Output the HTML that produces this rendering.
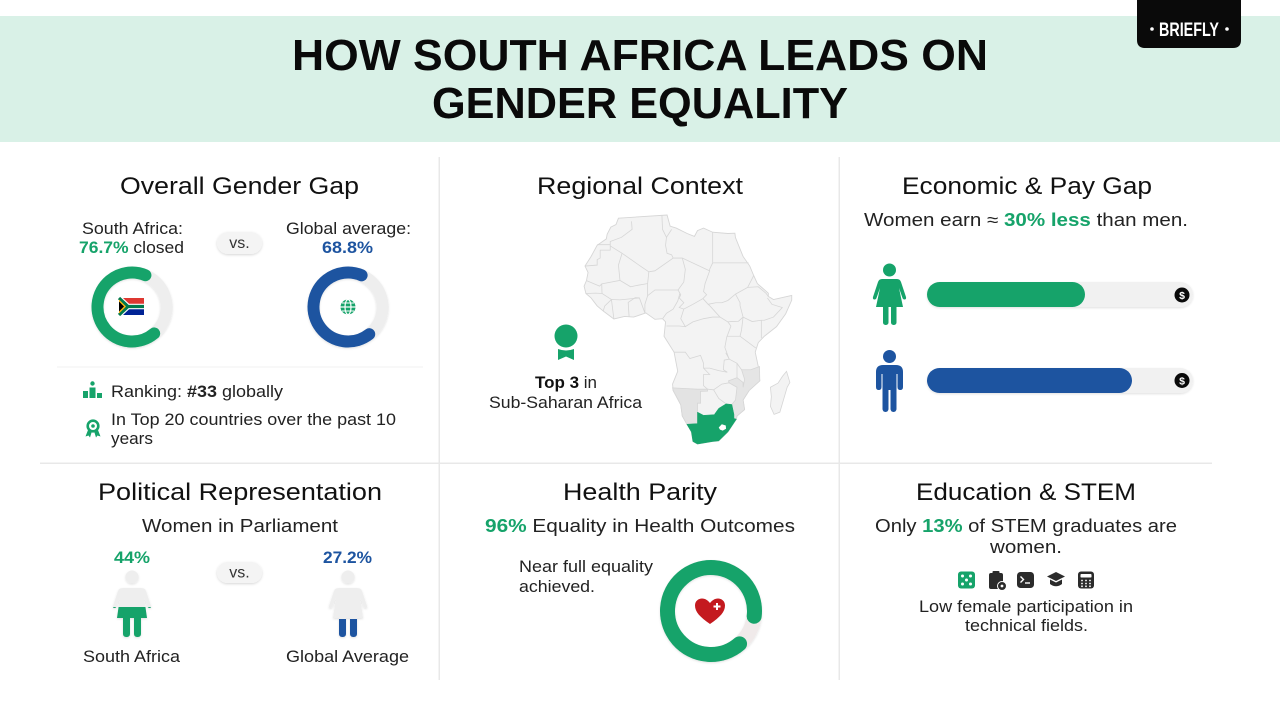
<!DOCTYPE html>
<html>
<head>
<meta charset="utf-8">
<style>
  html,body{margin:0;padding:0;background:#fff;}
  body{width:1280px;height:720px;overflow:hidden;}
  svg{display:block;}
  text{font-family:"Liberation Sans", sans-serif;}
</style>
</head>
<body>
<svg width="1280" height="720" viewBox="0 0 1280 720" xmlns="http://www.w3.org/2000/svg">
  <defs>
    <filter id="sh" x="-30%" y="-30%" width="160%" height="160%">
      <feDropShadow dx="0" dy="1" stdDeviation="1.2" flood-color="#000" flood-opacity="0.16"/>
    </filter>
    <filter id="sh2" x="-30%" y="-30%" width="160%" height="160%">
      <feDropShadow dx="0" dy="1" stdDeviation="1" flood-color="#000" flood-opacity="0.12"/>
    </filter>
    <g id="fig">
      <circle cx="0" cy="577" r="6.5"/>
      <path d="M -9,588 L 9,588 Q 13,588 14,591 L 19,606 Q 19.5,608 17.5,608 Q 16,608 15.5,606.5 L 12,597 L 15,618 L -15,618 L -12,597 L -15.5,606.5 Q -16,608 -17.5,608 Q -19.5,608 -19,606 L -14,591 Q -13,588 -9,588 Z"/>
      <rect x="-9" y="615" width="7" height="22" rx="3"/>
      <rect x="2" y="615" width="7" height="22" rx="3"/>
    </g>
    <clipPath id="lowSA"><rect x="-30" y="607" width="60" height="40"/></clipPath>
    <clipPath id="lowGL"><rect x="-30" y="619" width="60" height="30"/></clipPath>
  </defs>

  <!-- Header -->
  <rect x="0" y="16" width="1280" height="126" fill="#d9f1e7"/>
  <text x="292" y="70" font-size="44" font-weight="bold" fill="#0a0a0a" textLength="696" lengthAdjust="spacingAndGlyphs">HOW SOUTH AFRICA LEADS ON</text>
  <text x="432" y="118" font-size="44" font-weight="bold" fill="#0a0a0a" textLength="416" lengthAdjust="spacingAndGlyphs">GENDER EQUALITY</text>

  <!-- Briefly logo -->
  <path d="M1137,0 H1241 V40 Q1241,48 1233,48 H1145 Q1137,48 1137,40 Z" fill="#0a0a0a"/>
  <circle cx="1152" cy="29" r="1.8" fill="#fff"/>
  <circle cx="1227" cy="29" r="1.8" fill="#fff"/>
  <text x="1159" y="36" font-size="19" font-weight="bold" fill="#fff" textLength="60" lengthAdjust="spacingAndGlyphs">BRIEFLY</text>

  <!-- Grid lines -->
  <rect x="438.5" y="157" width="1.5" height="523" fill="#e8e8e8"/>
  <rect x="838.5" y="157" width="1.5" height="523" fill="#e8e8e8"/>
  <rect x="40" y="462.5" width="1172" height="1.5" fill="#e8e8e8"/>

  <!-- ===== Overall Gender Gap ===== -->
  <text x="120" y="194" font-size="24" fill="#111" textLength="239" lengthAdjust="spacingAndGlyphs">Overall Gender Gap</text>
  <text x="82" y="234" font-size="17" fill="#222" textLength="101" lengthAdjust="spacingAndGlyphs">South Africa:</text>
  <text x="79" y="253" font-size="17" fill="#222" textLength="105" lengthAdjust="spacingAndGlyphs"><tspan font-weight="bold" fill="#16a36a">76.7%</tspan> closed</text>
  <text x="286" y="234" font-size="17" fill="#222" textLength="125" lengthAdjust="spacingAndGlyphs">Global average:</text>
  <text x="322" y="253" font-size="17" font-weight="bold" fill="#1d54a0" textLength="51" lengthAdjust="spacingAndGlyphs">68.8%</text>

  <rect x="217" y="232" width="45" height="22" rx="11" fill="#f4f4f4" filter="url(#sh)"/>
  <text x="239.5" y="248" font-size="16" fill="#333" text-anchor="middle">vs.</text>

  <!-- donut SA -->
  <circle cx="132" cy="307" r="34.5" fill="none" stroke="#eeeeee" stroke-width="12" filter="url(#sh2)"/>
  <circle cx="132" cy="307" r="34.5" fill="none" stroke="#16a36a" stroke-width="12" stroke-linecap="round" stroke-dasharray="146 300" transform="rotate(50 132 307)"/>
  <!-- SA flag -->
  <g>
    <rect x="119" y="298" width="25" height="8.5" fill="#de3831"/>
    <rect x="119" y="306.5" width="25" height="8.5" fill="#002395"/>
    <polyline points="119,298 128,306.5 144,306.5" fill="none" stroke="#fff" stroke-width="5.5"/>
    <polyline points="119,315 128,306.5" fill="none" stroke="#fff" stroke-width="5.5"/>
    <polyline points="119,298 128,306.5 144,306.5" fill="none" stroke="#007a4d" stroke-width="3.2"/>
    <polyline points="119,315 128,306.5" fill="none" stroke="#007a4d" stroke-width="3.2"/>
    <polygon points="119,299.5 126,306.5 119,313.5" fill="#ffb612"/>
    <polygon points="119,301.5 124,306.5 119,311.5" fill="#000"/>
  </g>

  <!-- donut global -->
  <circle cx="348" cy="307" r="34.5" fill="none" stroke="#eeeeee" stroke-width="12" filter="url(#sh2)"/>
  <circle cx="348" cy="307" r="34.5" fill="none" stroke="#1d54a0" stroke-width="12" stroke-linecap="round" stroke-dasharray="145 300" transform="rotate(52 348 307)"/>
  <!-- globe icon -->
  <circle cx="348" cy="307" r="7.5" fill="#16a36a"/>
  <ellipse cx="348" cy="307" rx="3" ry="7.5" fill="none" stroke="#fff" stroke-width="1.2"/>
  <line x1="340.5" y1="307" x2="355.5" y2="307" stroke="#fff" stroke-width="1.2"/>
  <line x1="342" y1="303" x2="354" y2="303" stroke="#fff" stroke-width="1"/>
  <line x1="342" y1="311" x2="354" y2="311" stroke="#fff" stroke-width="1"/>

  <rect x="57" y="366.5" width="366" height="1" fill="#f0f0f0"/>

  <!-- ranking icon -->
  <circle cx="92.5" cy="383.5" r="2.2" fill="#16a36a"/>
  <rect x="83" y="391" width="5" height="7" fill="#16a36a"/>
  <rect x="89.5" y="387.5" width="6" height="10.5" fill="#16a36a"/>
  <rect x="97" y="393" width="5" height="5" fill="#16a36a"/>
  <text x="111" y="397" font-size="17" fill="#222" textLength="172" lengthAdjust="spacingAndGlyphs">Ranking: <tspan font-weight="bold">#33</tspan> globally</text>

  <!-- award icon small -->
  <path d="M88,430 L85.5,436.5 L88.5,435.5 L90,437.5 L92,431 Z" fill="#16a36a"/>
  <path d="M98,430 L100.5,436.5 L97.5,435.5 L96,437.5 L94,431 Z" fill="#16a36a"/>
  <circle cx="93" cy="426" r="5.3" fill="none" stroke="#16a36a" stroke-width="2.6"/>
  <circle cx="93" cy="426" r="1.8" fill="#16a36a"/>
  <text x="111" y="425" font-size="17" fill="#222" textLength="285" lengthAdjust="spacingAndGlyphs">In Top 20 countries over the past 10</text>
  <text x="111" y="444" font-size="17" fill="#222" textLength="42" lengthAdjust="spacingAndGlyphs">years</text>

  <!-- ===== Regional Context ===== -->
  <text x="537" y="194" font-size="24" fill="#111" textLength="206" lengthAdjust="spacingAndGlyphs">Regional Context</text>

  <g transform="translate(585,215) scale(3.04,-3.19) translate(17,-37)">
    <path d="M -6,36 L 10,37 L 11,33.5 L 13,32.9 L 16.6,31.2 L 19,30.3 L 20,32.1 L 22,32.9 L 25,31.6 L 30,31.2 L 32.3,31.3 L 32.5,29.9 L 35,24 L 37.2,21 L 38.5,18 L 39.7,15.5 L 43.3,12.5 L 43.3,11.5 L 45,10.5 L 51,11.8 L 51,10.3 L 49,6 L 46,2 L 42,-1 L 40,-3 L 39,-6 L 40,-10.5 L 40.5,-15 L 37,-18 L 35,-21 L 35.5,-24 L 33,-26 L 32.8,-27 L 30,-31 L 27,-33.8 L 25,-34 L 20,-34.8 L 18.5,-34 L 18,-31 L 16.5,-28.5 L 15,-26 L 14.5,-22.5 L 12,-18 L 11.8,-16 L 13.5,-12 L 12.3,-6 L 9,-1 L 9.5,3.5 L 8.5,4.5 L 6,4.3 L 3,6.3 L -1,5 L -4,5.2 L -7.5,4.4 L -11,6.9 L -13,8.5 L -15,11 L -16.7,12.4 L -17.3,14.7 L -16.5,16.5 L -16,19 L -17,21 L -15,24 L -13,27.5 L -10,29.5 L -9.7,31 L -8.5,33.2 L -6.8,34 Z" fill="#f3f3f3" stroke="#d6d6d6" stroke-width="0.9" vector-effect="non-scaling-stroke"/>
    <path d="M 11.8,-17.2 L 20,-17.6 L 23.3,-17.6 L 23.3,-18.2 L 21,-18.3 L 21,-22 L 20,-22 L 20,-28.4 L 16.5,-28.6 L 15,-26 L 14.5,-22.5 L 12,-18 Z" fill="#e3e3e3" stroke="#d6d6d6" stroke-width="0.8" vector-effect="non-scaling-stroke"/>
    <path d="M 40.4,-10.5 L 40.5,-15 L 37,-18 L 35,-21 L 35.5,-24 L 33,-26 L 32.8,-27 L 32,-26.8 L 31.3,-22.4 L 32.5,-21 L 33,-17 L 30.4,-15.6 L 30.2,-15 L 33,-14 L 35,-15.5 L 35,-17 L 35.5,-14.5 L 34.5,-11.5 L 37.5,-11.5 Z" fill="#e5e5e5" stroke="#d6d6d6" stroke-width="0.8" vector-effect="non-scaling-stroke"/>
    <g fill="none" stroke="#d6d6d6" stroke-width="0.8" vector-effect="non-scaling-stroke">
      <path vector-effect="non-scaling-stroke" d="M -1.7,35 L -1.5,32.5 L -5,30 L -8.7,28.7 L -8.7,27.7 L -13,27.7"/>
      <path vector-effect="non-scaling-stroke" d="M -8.7,27.7 L -8.7,26 L -12,26 L -12,23.5 L -13,23 L -13,21.3 L -17,21"/>
      <path vector-effect="non-scaling-stroke" d="M -8.7,27.3 L -4.8,25 L -6,21.3 L -5.5,16.5 L -11.5,15.4 L -12.2,14.7 L -16.4,16.4"/>
      <path vector-effect="non-scaling-stroke" d="M -4.8,25 L 1.2,21 L 4,19.2 L 6,19.5 L 12,23.5 L 11.5,24.5 L 10,25 L 9.5,27.5 L 9.8,30 L 8.5,32.5 L 8.3,36.9"/>
      <path vector-effect="non-scaling-stroke" d="M 9.8,30 L 11.5,32.5"/>
      <path vector-effect="non-scaling-stroke" d="M 25,31.6 L 25,22 L 24,20 L 24,19.5 L 15,23.5 L 12,23.5"/>
      <path vector-effect="non-scaling-stroke" d="M 25,22 L 36.8,22"/>
      <path vector-effect="non-scaling-stroke" d="M 15,23.5 L 16,20 L 15.5,16 L 13.6,13.5 L 14.5,12 L 14,11 L 15.5,9.5 L 14,8 L 15.5,7.5 L 18.5,9 L 21.8,10.8 L 23,12 L 22,13 L 22.5,15.5 L 24,19.5"/>
      <path vector-effect="non-scaling-stroke" d="M 4,19.2 L 3.6,15.5 L 0.5,15 L -2,14.5 L -5.5,16.5"/>
      <path vector-effect="non-scaling-stroke" d="M 3.6,15.5 L 3.6,11.7 L 6,13.5 L 10,13.5 L 13.6,13.5"/>
      <path vector-effect="non-scaling-stroke" d="M 3.6,11.7 L 2.7,9 L 2.7,6.3"/>
      <path vector-effect="non-scaling-stroke" d="M 14.2,12.4 L 13.5,10 L 12,7.5 L 9.8,6.2 L 8.6,4.6"/>
      <path vector-effect="non-scaling-stroke" d="M 2.7,6.3 L 0.9,11 L -0.5,11.1 L -2.8,9.6 L -2.5,5.2"/>
      <path vector-effect="non-scaling-stroke" d="M 0.9,11 L -5.5,10.4 L -8.3,10.5 L -7.5,4.4"/>
      <path vector-effect="non-scaling-stroke" d="M -11.5,15.4 L -11.4,12.4 L -13.5,12.5 L -16.7,12.4"/>
      <path vector-effect="non-scaling-stroke" d="M -11.4,12.4 L -8.3,10.5 L -10.5,8.5 L -11,6.9"/>
      <path vector-effect="non-scaling-stroke" d="M 15.5,7.5 L 14.5,4.5 L 16,2 L 14,2.2 L 11.3,2.2 L 9.8,2.2"/>
      <path vector-effect="non-scaling-stroke" d="M 16,2 L 18.5,3.5 L 22,4.5 L 25,5 L 27.4,5 L 30,3.5 L 31,2.2 L 29.6,-1.4 L 29,-4.5 L 30.4,-8.2 L 28.8,-8.5 L 28.5,-11.5 L 29.8,-12.3 L 27,-11.8 L 24,-11 L 22,-11 L 22,-9.5 L 21,-7 L 17.5,-8 L 16,-6 L 12.3,-6"/>
      <path vector-effect="non-scaling-stroke" d="M 21.8,10.8 L 23.5,9 L 24,8.6 L 27.4,5"/>
      <path vector-effect="non-scaling-stroke" d="M 23.5,9 L 26,9.5 L 28,9.5 L 30,10.2 L 32.5,12.2 L 34,9.5 L 34,8.6 L 35,5 L 33.5,3.7 L 31,3.6 L 30,3.5"/>
      <path vector-effect="non-scaling-stroke" d="M 36.5,14.3 L 38.5,18"/>
      <path vector-effect="non-scaling-stroke" d="M 32.5,12.2 L 36.5,14.3 L 40,14.5 L 42.5,12.5 L 43.3,11.5"/>
      <path vector-effect="non-scaling-stroke" d="M 35,5 L 38,3.6 L 41,4 L 42,4 L 45,5 L 47.9,8 L 44.5,9 L 43,11"/>
      <path vector-effect="non-scaling-stroke" d="M 41,4 L 41,-1.6"/>
      <path vector-effect="non-scaling-stroke" d="M 35,5 L 34.5,1 L 34,-1"/>
      <path vector-effect="non-scaling-stroke" d="M 29.6,-1 L 34,-1 L 37.5,-3.5 L 39.2,-4.7"/>
      <path vector-effect="non-scaling-stroke" d="M 29.3,-6.2 L 30.5,-8.2 L 33,-9.5 L 34.5,-11.5"/>
      <path vector-effect="non-scaling-stroke" d="M 22,-11 L 24,-13 L 22,-13 L 22,-16.5 L 23.3,-17.6"/>
      <path vector-effect="non-scaling-stroke" d="M 23.3,-17.6 L 25.3,-17.8 L 28,-16 L 30.4,-15.6"/>
      <path vector-effect="non-scaling-stroke" d="M 33,-9.5 L 33,-14"/>
      <path vector-effect="non-scaling-stroke" d="M 25.3,-17.8 L 27,-20.5 L 29.4,-22.2"/>
    </g>
    <path d="M 16.5,-28.6 L 20,-28.4 L 20,-24.8 L 22,-25.8 L 25.5,-25.6 L 27,-23.6 L 29.4,-22.2 L 31.3,-22.4 L 32,-25.5 L 32,-26.8 L 32.8,-27 L 30,-31 L 27,-33.8 L 25,-34 L 20,-34.8 L 18.5,-34 L 18,-31 Z" fill="#16a36a" stroke="#16a36a" stroke-width="0.5" vector-effect="non-scaling-stroke"/>
    <path d="M 27,-29.6 L 28,-28.6 L 29.3,-29 L 29.4,-30 L 28.3,-30.6 L 27.4,-30.3 Z" fill="#fff"/>
    <path d="M 49.3,-12 L 50.4,-15.5 L 49.5,-17 L 47.1,-24.8 L 45.2,-25.5 L 44,-23 L 44.3,-20 L 44,-17 L 46.5,-15.7 L 48,-13.5 Z" fill="#f3f3f3" stroke="#d6d6d6" stroke-width="0.8" vector-effect="non-scaling-stroke"/>
  </g>

  <!-- award icon -->
  <circle cx="566" cy="336" r="11.5" fill="#16a36a"/>
  <path d="M558,349 Q566,352 574,349 L574,360 L566,356.5 L558,360 Z" fill="#16a36a"/>
  <text x="535" y="388" font-size="17" fill="#222" textLength="62" lengthAdjust="spacingAndGlyphs"><tspan font-weight="bold" fill="#111">Top 3</tspan> in</text>
  <text x="489" y="408" font-size="17" fill="#222" textLength="153" lengthAdjust="spacingAndGlyphs">Sub-Saharan Africa</text>

  <!-- ===== Economic & Pay Gap ===== -->
  <text x="902" y="194" font-size="24" fill="#111" textLength="250" lengthAdjust="spacingAndGlyphs">Economic &amp; Pay Gap</text>
  <text x="864" y="226" font-size="18" fill="#222" textLength="324" lengthAdjust="spacingAndGlyphs">Women earn ≈ <tspan font-weight="bold" fill="#16a36a">30% less</tspan> than men.</text>

  <!-- woman icon -->
  <g fill="#16a36a">
    <circle cx="889.5" cy="270" r="6.5"/>
    <path d="M 882,279 L 897,279 Q 900,279 901,282 L 906,297 Q 906.5,299.5 904.5,299.5 Q 903,299.5 902.5,298 L 899,288 L 903,307 L 876,307 L 880,288 L 876.5,298 Q 876,299.5 874.5,299.5 Q 872.5,299.5 873,297 L 878,282 Q 879,279 882,279 Z"/>
    <rect x="883" y="304" width="5.5" height="21" rx="2.5"/>
    <rect x="891" y="304" width="5.5" height="21" rx="2.5"/>
  </g>
  <!-- green bar -->
  <rect x="927" y="282" width="266" height="25" rx="12.5" fill="#f1f1f1" filter="url(#sh2)"/>
  <rect x="927" y="282" width="158" height="25" rx="12.5" fill="#16a36a"/>
  <circle cx="1182" cy="295" r="7.5" fill="#0a0a0a"/>
  <text x="1182" y="299" font-size="10.5" font-weight="bold" fill="#fff" text-anchor="middle">$</text>

  <!-- man icon -->
  <g fill="#1d54a0">
    <circle cx="889.5" cy="356.5" r="6.5"/>
    <path d="M 876,372 Q 876,365 883,365 L 896,365 Q 903,365 903,372 L 903,387 Q 903,390 900.25,390 Q 897.5,390 897.5,387 L 897.5,374 L 896.5,374 L 896.5,390 L 882.5,390 L 882.5,374 L 881.5,374 L 881.5,387 Q 881.5,390 878.75,390 Q 876,390 876,387 Z"/>
    <rect x="882.5" y="384" width="6" height="28" rx="3"/>
    <rect x="890.5" y="384" width="6" height="28" rx="3"/>
  </g>
  <!-- blue bar -->
  <rect x="927" y="368" width="266" height="25" rx="12.5" fill="#f1f1f1" filter="url(#sh2)"/>
  <rect x="927" y="368" width="205" height="25" rx="12.5" fill="#1d54a0"/>
  <circle cx="1182" cy="380.5" r="7.5" fill="#0a0a0a"/>
  <text x="1182" y="384.5" font-size="10.5" font-weight="bold" fill="#fff" text-anchor="middle">$</text>

  <!-- ===== Political Representation ===== -->
  <text x="98" y="500" font-size="24" fill="#111" textLength="284" lengthAdjust="spacingAndGlyphs">Political Representation</text>
  <text x="142" y="532" font-size="18" fill="#222" textLength="196" lengthAdjust="spacingAndGlyphs">Women in Parliament</text>
  <text x="114" y="563" font-size="17" font-weight="bold" fill="#16a36a" textLength="36" lengthAdjust="spacingAndGlyphs">44%</text>
  <text x="323" y="563" font-size="17" font-weight="bold" fill="#1d54a0" textLength="49" lengthAdjust="spacingAndGlyphs">27.2%</text>
  <rect x="217" y="562" width="45" height="21" rx="10.5" fill="#f4f4f4" filter="url(#sh)"/>
  <text x="239.5" y="577.5" font-size="16" fill="#333" text-anchor="middle">vs.</text>

  <g transform="translate(132,0)">
    <use href="#fig" fill="#eeeeee" filter="url(#sh2)"/>
    <g clip-path="url(#lowSA)"><use href="#fig" fill="#16a36a"/></g>
  </g>
  <g transform="translate(348,0)">
    <use href="#fig" fill="#eeeeee" filter="url(#sh2)"/>
    <g clip-path="url(#lowGL)"><use href="#fig" fill="#1d54a0"/></g>
  </g>
  <text x="83" y="662" font-size="17" fill="#222" textLength="97" lengthAdjust="spacingAndGlyphs">South Africa</text>
  <text x="286" y="662" font-size="17" fill="#222" textLength="123" lengthAdjust="spacingAndGlyphs">Global Average</text>

  <!-- ===== Health Parity ===== -->
  <text x="563" y="500" font-size="24" fill="#111" textLength="154" lengthAdjust="spacingAndGlyphs">Health Parity</text>
  <text x="485" y="532" font-size="18" fill="#222" textLength="310" lengthAdjust="spacingAndGlyphs"><tspan font-weight="bold" fill="#16a36a">96%</tspan> Equality in Health Outcomes</text>
  <text x="519" y="572" font-size="17" fill="#222" textLength="134" lengthAdjust="spacingAndGlyphs">Near full equality</text>
  <text x="519" y="592" font-size="17" fill="#222" textLength="76" lengthAdjust="spacingAndGlyphs">achieved.</text>

  <circle cx="711" cy="611" r="43.5" fill="none" stroke="#f0eaea" stroke-width="15" filter="url(#sh2)"/>
  <circle cx="711" cy="611" r="43.5" fill="none" stroke="#16a36a" stroke-width="15" stroke-linecap="round" stroke-dasharray="241 300" transform="rotate(49 711 611)"/>
  <path d="M 710,624 C 700,617 695,612 695,605.5 C 695,601 698.5,598.5 702,598.5 C 705.5,598.5 708,600.5 710,603 C 712,600.5 714.5,598.5 718,598.5 C 721.5,598.5 725,601 725,605.5 C 725,612 720,617 710,624 Z" fill="#c41a1f"/>
  <rect x="716" y="603" width="2" height="7" fill="#fff"/>
  <rect x="713.5" y="605.5" width="7" height="2" fill="#fff"/>

  <!-- ===== Education & STEM ===== -->
  <text x="916" y="500" font-size="24" fill="#111" textLength="220" lengthAdjust="spacingAndGlyphs">Education &amp; STEM</text>
  <text x="875" y="532" font-size="18" fill="#222" textLength="302" lengthAdjust="spacingAndGlyphs">Only <tspan font-weight="bold" fill="#16a36a">13%</tspan> of STEM graduates are</text>
  <text x="990" y="553" font-size="18" fill="#222" textLength="72" lengthAdjust="spacingAndGlyphs">women.</text>

  <!-- icons -->
  <rect x="958" y="571.5" width="17" height="17" rx="3" fill="#16a36a"/>
  <g fill="#fff">
    <circle cx="962.5" cy="576" r="1.5"/><circle cx="970.5" cy="576" r="1.5"/>
    <circle cx="966.5" cy="580" r="1.5"/>
    <circle cx="962.5" cy="584" r="1.5"/><circle cx="970.5" cy="584" r="1.5"/>
  </g>
  <rect x="989" y="573" width="14" height="16" rx="2" fill="#2b2b2b"/>
  <rect x="992.5" y="571" width="7" height="3.5" rx="1" fill="#2b2b2b"/>
  <circle cx="1002" cy="586" r="4.5" fill="#2b2b2b" stroke="#fff" stroke-width="1"/>
  <circle cx="1002" cy="586" r="1.4" fill="#fff"/>
  <rect x="1017" y="572" width="17" height="16" rx="3.5" fill="#2b2b2b"/>
  <polyline points="1020.5,576.5 1023.5,579.5 1020.5,582.5" fill="none" stroke="#fff" stroke-width="1.4"/>
  <line x1="1025" y1="583" x2="1030" y2="583" stroke="#fff" stroke-width="1.4"/>
  <polygon points="1056,572 1065,576.5 1056,581 1047,576.5" fill="#2b2b2b"/>
  <path d="M1050,579.5 L1056,582.5 L1062,579.5 L1062,584 Q1056,588.5 1050,584 Z" fill="#2b2b2b"/>
  <rect x="1078" y="571.5" width="16" height="17" rx="3" fill="#2b2b2b"/>
  <rect x="1080.5" y="574" width="11" height="3.5" rx="0.8" fill="#fff"/>
  <g fill="#fff">
    <circle cx="1082" cy="580.5" r="0.9"/><circle cx="1086" cy="580.5" r="0.9"/><circle cx="1090" cy="580.5" r="0.9"/>
    <circle cx="1082" cy="583.5" r="0.9"/><circle cx="1086" cy="583.5" r="0.9"/><circle cx="1090" cy="583.5" r="0.9"/>
    <circle cx="1082" cy="586.3" r="0.9"/><circle cx="1086" cy="586.3" r="0.9"/><circle cx="1090" cy="586.3" r="0.9"/>
  </g>

  <text x="919" y="612" font-size="17" fill="#222" textLength="214" lengthAdjust="spacingAndGlyphs">Low female participation in</text>
  <text x="965" y="631" font-size="17" fill="#222" textLength="123" lengthAdjust="spacingAndGlyphs">technical fields.</text>
</svg>
</body>
</html>
